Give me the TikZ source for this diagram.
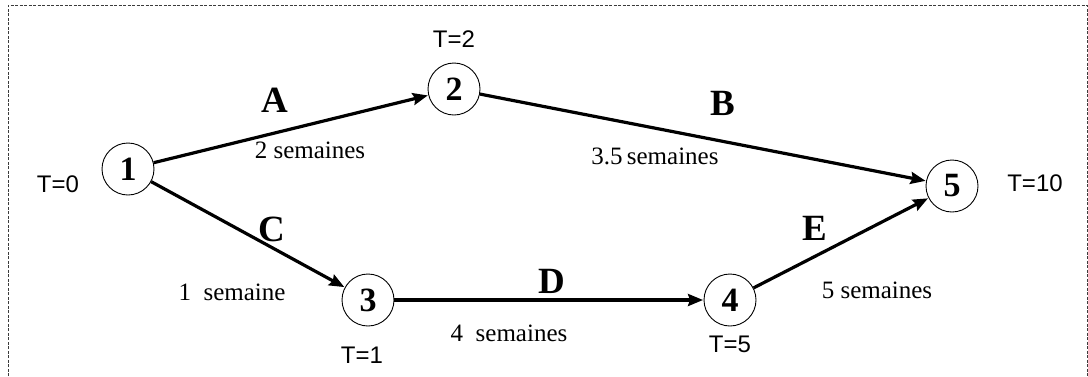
\documentclass[tikz,border=0pt]{standalone}
\usepackage{fontspec}
\setmainfont{Liberation Serif}
\setsansfont{Liberation Sans}
\usetikzlibrary{arrows.meta, positioning}
\definecolor{pertLine}{HTML}{000000}
\definecolor{pertFrame}{HTML}{3C3C3C}
\tikzset{
  pertfig/.style={
    x=1pt, y=-1pt,
    >={Stealth[length=15pt, width=12pt, inset=2pt]},
  },
  event/.style={
    circle, draw=pertLine, line width=0.9pt, minimum size=52pt, inner sep=0pt,
    font=\fontsize{34}{34}\selectfont\bfseries,
  },
  task/.style={draw=pertLine, line width=3.2pt, ->, shorten >=0.5pt},
  tasklbl/.style={font=\fontsize{37}{37}\selectfont\bfseries, inner sep=0pt},
  dur/.style={font=\fontsize{25}{25}\selectfont, inner sep=0pt},
  % dates au plus tot : en sans serif
  tdate/.style={font=\sffamily\fontsize{24}{24}\selectfont, inner sep=0pt},
  frame/.style={draw=pertFrame, line width=1pt, dash pattern=on 3pt off 1.5pt},
}
\begin{document}
\begin{tikzpicture}[pertfig]
  \useasboundingbox (0,0) rectangle (1088,376);
  \draw[frame] (8,376) -- (8,5) -- (1087,5) -- (1087,376);
  \node[event] (E1) at (128,169) {1};
  \node[event] (E2) at (454,89) {2};
  \node[event] (E3) at (368,300) {3};
  \node[event] (E4) at (730,300) {4};
  \node[event] (E5) at (952,186) {5};
  \draw[task] (E1) -- (E2);
  \draw[task] (E2) -- (E5);
  \draw[task] (E1) -- (E3);
  \draw[task] (E3) -- (E4);
  \draw[task] (E4) -- (E5);
  \node[tasklbl] (LA) at (275,100) {A};
  \node[tasklbl] (LB) at (723,103) {B};
  \node[tasklbl] (LC) at (272,229) {C};
  \node[tasklbl] (LD) at (552,281) {D};
  \node[tasklbl] (LE) at (815,228) {E};
  \node[dur] (DA) at (310,150) {2 semaines};
  \node[dur] (DB) at (655,156) {3.5\,semaines};
  \node[dur] (DC) at (232,292) {1\ \ semaine};
  \node[dur] (DD) at (509,333) {4\ \ semaines};
  \node[dur] (DE) at (877,290) {5 semaines};
  \node[tdate] (T1) at (58,184) {T=0};
  \node[tdate] (T2) at (454,39) {T=2};
  \node[tdate] (T3) at (362,355) {T=1};
  \node[tdate] (T4) at (730,344) {T=5};
  \node[tdate] (T5) at (1035,183) {T=10};
\end{tikzpicture}
\end{document}
